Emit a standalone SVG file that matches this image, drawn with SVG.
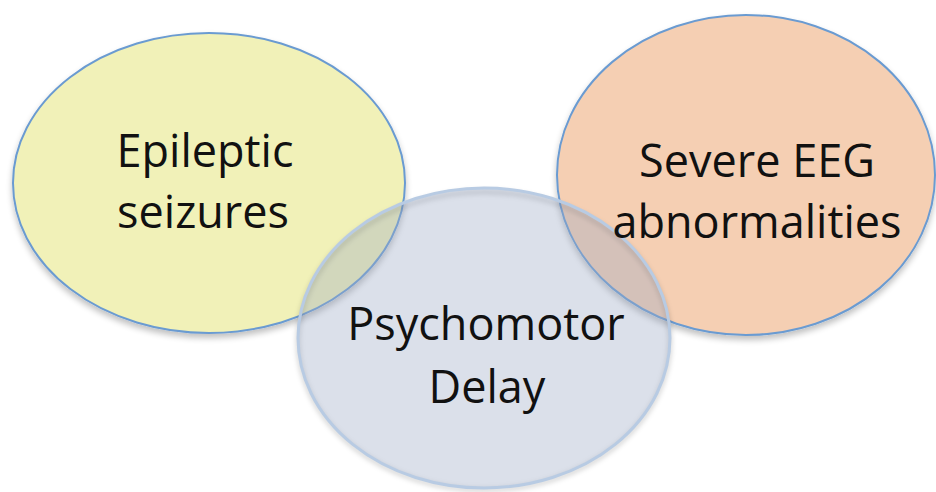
<svg xmlns="http://www.w3.org/2000/svg" width="936" height="492" viewBox="0 0 936 492">
<defs>
<filter id="sh" x="-10%" y="-10%" width="120%" height="125%">
<feGaussianBlur in="SourceAlpha" stdDeviation="3"/>
<feOffset dx="0" dy="4" result="b"/>
<feComponentTransfer><feFuncA type="linear" slope="0.25"/></feComponentTransfer>
<feMerge><feMergeNode/><feMergeNode in="SourceGraphic"/></feMerge>
</filter>
<filter id="blur" x="-10%" y="-10%" width="120%" height="125%">
<feGaussianBlur stdDeviation="2.5"/>
</filter>
</defs>
<style>
.lbl{font-family:"Open Sans","Noto Sans","Liberation Sans",sans-serif;font-size:45px;fill:#111;text-anchor:middle}
.edge{stroke:#6b9bd1;stroke-width:2}
</style>
<rect width="936" height="492" fill="#fff"/>
<g id="epileptic">
<ellipse cx="209" cy="183" rx="196" ry="150" fill="#f1f1b8" class="edge" filter="url(#sh)"/>
</g>
<g id="eeg">
<ellipse cx="746" cy="175" rx="189" ry="160" fill="#f5cfb3" class="edge" filter="url(#sh)"/>
</g>
<g id="psychomotor">
<ellipse cx="484" cy="341" rx="186" ry="149" fill="none" stroke="#000" stroke-opacity="0.18" stroke-width="4" filter="url(#blur)"/>
<ellipse cx="484" cy="338" rx="186" ry="150" fill="#9baac6" fill-opacity="0.36" stroke="#b8cbe3" stroke-width="3"/>
</g>
<g id="labels">
<text class="lbl" x="205" y="167">Epileptic</text>
<text class="lbl" x="203" y="228">seizures</text>
<text class="lbl" x="757" y="177">Severe EEG</text>
<text class="lbl" x="757" y="238">abnormalities</text>
<text class="lbl" x="486" y="340">Psychomotor</text>
<text class="lbl" x="487" y="403">Delay</text>
</g>
</svg>
